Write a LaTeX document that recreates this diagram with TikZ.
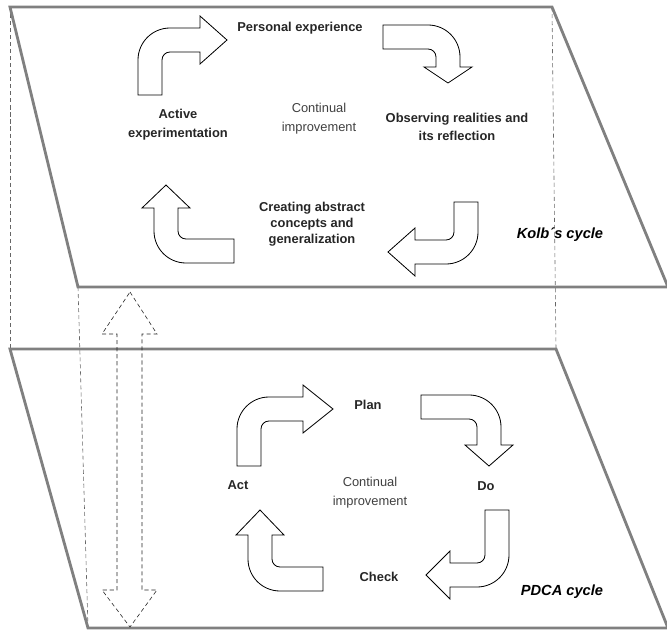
\documentclass[tikz,border=0pt]{standalone}
\usepackage{fontspec}
\setmainfont{Liberation Sans}
\usepackage{xcolor}

% block arrow that runs up, bends and points right:
% #1 placement, #2 first leg, #3 second leg, #4 head length
\newcommand{\bentarrow}[4]{%
  \draw[bent,#1] (-12,0) -- (-12,#2-20) arc[start angle=180,end angle=90,radius=32]
    -- (#3,#2+12) -- (#3,#2+24) -- (#3+#4,#2) -- (#3,#2-24) -- (#3,#2-12)
    -- (20,#2-12) arc[start angle=90,end angle=180,radius=8] -- (12,0) -- cycle;}

\begin{document}
\begin{tikzpicture}[x=0.03cm,y=0.03cm,
  plane/.style={draw=black!50,line width=2.4pt,line join=miter},
  hid/.style={draw=black!60,line width=0.5pt,dash pattern=on 3.5pt off 2.5pt},
  bent/.style={draw=black,line width=0.7pt,fill=white,line join=miter},
  lbl/.style={font=\fontsize{11}{16}\selectfont\bfseries,text=black!85,align=center,inner sep=0pt},
  soft/.style={font=\fontsize{11}{16}\selectfont,text=black!75,align=center,inner sep=0pt},
  tag/.style={font=\fontsize{12.5}{15}\selectfont\bfseries\itshape,inner sep=0pt}]
\useasboundingbox (0,0) rectangle (667,631);

% the two planes
\coordinate (kTL) at (10,624);  \coordinate (kTR) at (552,624);
\coordinate (kBR) at (668,344); \coordinate (kBL) at (78,344);
\coordinate (pTL) at (10,282);  \coordinate (pTR) at (556,282);
\coordinate (pBR) at (668,3);   \coordinate (pBL) at (88,3);
\draw[hid] (kTL) -- (pTL);
\draw[hid] (kTR) -- (pTR);
\draw[hid] (kBL) -- (pBL);
\draw[plane] (kTL) -- (kTR) -- (kBR) -- (kBL) -- cycle;
\draw[plane] (pTL) -- (pTR) -- (pBR) -- (pBL) -- cycle;

% link between the planes
\draw[hid,draw=black!85] (130,339) -- (157,297) -- (142,297) -- (142,41) -- (157,41)
  -- (130,4) -- (102,41) -- (117,41) -- (117,297) -- (102,297) -- cycle;

% Kolb
\bentarrow{shift={(150,536)}}{55}{50}{27}
\bentarrow{shift={(383,594)},rotate=-90}{65}{30}{16}
\bentarrow{shift={(466,429)},rotate=180}{50}{51}{27}
\bentarrow{shift={(234,380)},rotate=90}{68}{43}{23}
\node[lbl] (pe) at (300,603) {Personal experience};
\node[lbl] (ob) at (457,504) {Observing realities and\\its reflection};
\node[lbl,font=\fontsize{11}{13.5}\selectfont\bfseries] (ca) at (312,407) {Creating abstract\\concepts and\\generalization};
\node[lbl] (ae) at (178,506) {Active\\experimentation};
\node[soft] (kci) at (319,512) {Continual\\improvement};
\node[tag] (kolb) at (560,396) {Kolb´s cycle};

% PDCA
\bentarrow{shift={(249,165)}}{57}{54}{30}
\bentarrow{shift={(421,224)},rotate=-90}{68}{38}{21}
\bentarrow{shift={(497,121)},rotate=180}{65}{47}{24}
\bentarrow{shift={(323,52)},rotate=90}{63}{44}{25}
\node[lbl] (plan) at (368,226) {Plan};
\node[lbl] (do) at (486,145) {Do};
\node[lbl] (check) at (379,54) {Check};
\node[lbl] (act) at (238,146) {Act};
\node[soft] (pci) at (370,138) {Continual\\improvement};
\node[tag] (pdca) at (562,39) {PDCA cycle};
\end{tikzpicture}
\end{document}
